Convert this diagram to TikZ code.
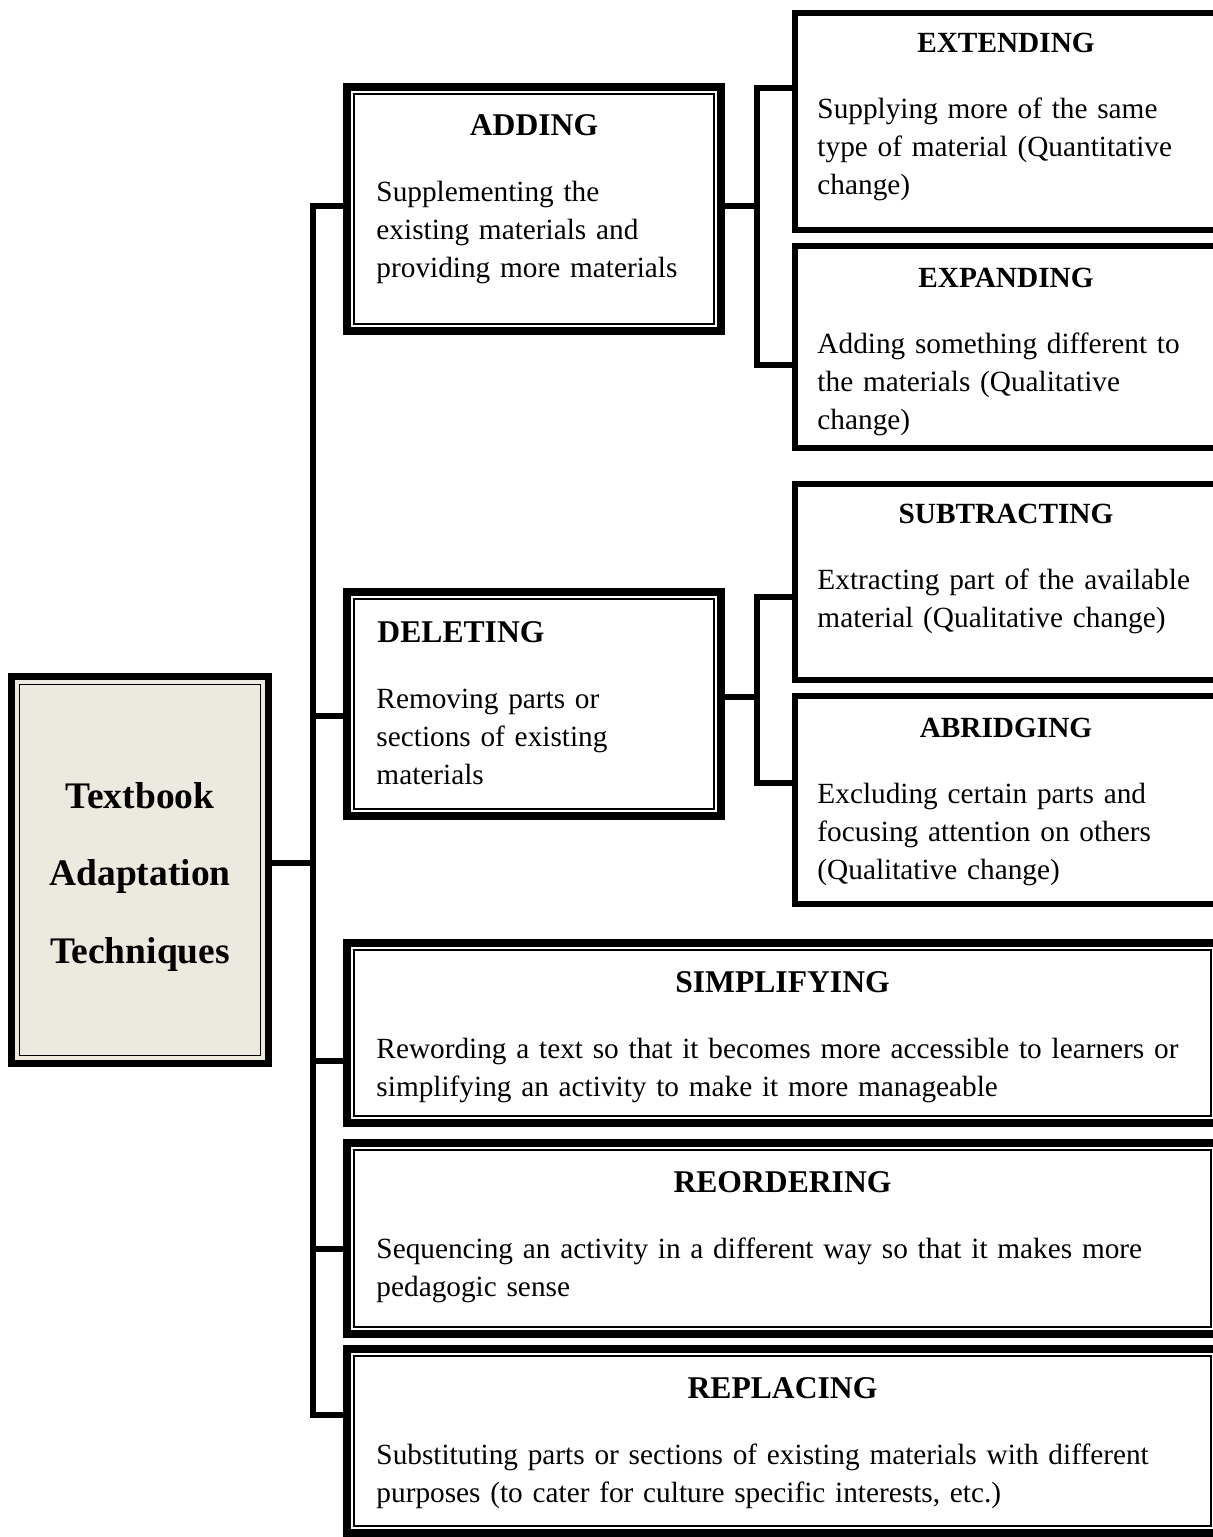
\documentclass[tikz,border=0pt]{standalone}
\usepackage{fontspec}
\setmainfont{Liberation Serif}
\usepackage{tikz}
\usetikzlibrary{calc}
\definecolor{beige}{HTML}{ECEADF}
\newcommand{\px}{0.015cm}

\begin{document}
\begin{tikzpicture}[x=0.015cm, y=-0.015cm,
  box/.style={draw, line width=3.4pt, outer sep=0pt, inner sep=0pt},
  sbox/.style={box, line width=2.6pt},
  inner/.style={line width=0.65pt},
  conn/.style={line width=2.35pt},
  ttl/.style={anchor=base, inner sep=0pt, font=\fontsize{13.5}{16.4}\selectfont\bfseries},
  sttl/.style={ttl, font=\fontsize{12.5}{16.4}\selectfont\bfseries},
  txt/.style={anchor=base west, inner sep=0pt, text width=13cm, align=left,
              font=\fontsize{12.5}{16.4}\selectfont}]
\useasboundingbox (0,0) rectangle (1213,1537);
\clip (0,0) rectangle (1213,1537);
\fill[white] (0,0) rectangle (1213,1537);

% root
\node[box, line width=3pt, fill=beige, minimum width=257*\px, minimum height=387*\px] (tech) at (140,870) {};
\draw[inner] ([shift={(8,8)}]tech.north west) rectangle ([shift={(-8,-8)}]tech.south east);
\node[anchor=base, inner sep=0pt, text width=4cm, align=center,
      font=\fontsize{16}{33.1}\selectfont\bfseries] (techl) at (140,808) {Textbook\\Adaptation\\Techniques};

% double framed boxes
\foreach \n/\x/\y/\w/\h in {adding/534/209/374/244, deleting/534/704/374/224,
    simpl/782.5/1033/871/180, reord/782.5/1238.5/871/191, repl/782.5/1441/871/184} {
  \node[box, minimum width=\w*\px, minimum height=\h*\px] (\n) at (\x,\y) {};
  \draw[inner] ([shift={(7,7)}]\n.north west) rectangle ([shift={(-7,-7)}]\n.south east);
}
% single framed boxes
\foreach \n/\y/\h in {extending/121.5/217, expanding/347/202, subtr/582/196, abridg/800/208}
  \node[sbox, minimum width=422*\px, minimum height=\h*\px] (\n) at (1006,\y) {};

% titles
\foreach \n/\s/\x/\y/\l in {adding/ttl/534/135/ADDING, simpl/ttl/782.5/992/SIMPLIFYING,
    reord/ttl/782.5/1192/REORDERING, repl/ttl/782.5/1398/REPLACING,
    extending/sttl/1006/52/EXTENDING, expanding/sttl/1006/287/EXPANDING,
    subtr/sttl/1006/523/SUBTRACTING, abridg/sttl/1006/737/ABRIDGING}
  \node[\s] (\n-t) at (\x,\y) {\l};
\node[ttl, anchor=base west] (deleting-t) at (377,642) {DELETING};

% texts
\foreach \n/\x/\y/\l in {
    adding/376/201/{Supplementing the\\existing materials and\\providing more materials},
    deleting/376/708/{Removing parts or\\sections of existing\\materials},
    simpl/376/1058/{Rewording a text so that it becomes more accessible to learners or\\simplifying an activity to make it more manageable},
    reord/376/1258/{Sequencing an activity in a different way so that it makes more\\pedagogic sense},
    repl/376/1464/{Substituting parts or sections of existing materials with different\\purposes (to cater for culture specific interests, etc.)},
    extending/817/118/{Supplying more of the same\\type of material (Quantitative\\change)},
    expanding/817/353/{Adding something different to\\the materials (Qualitative\\change)},
    subtr/817/589/{Extracting part of the available\\material (Qualitative change)},
    abridg/817/803/{Excluding certain parts and\\focusing attention on others\\(Qualitative change)}}
  \node[txt] (\n-b) at (\x,\y) {\l};

% trunk
\coordinate (j0) at (313,206);
\coordinate (j1) at (313,716);
\coordinate (j2) at (313,863);
\coordinate (j3) at (313,1061);
\coordinate (j4) at (313,1249);
\coordinate (j5) at (313,1415);
\draw[conn] (j0 -| adding.west) -- (j0) -- (j5) -- (j5 -| repl.west);
\foreach \j/\n in {j1/deleting, j3/simpl, j4/reord}
  \draw[conn] (\j) -- (\j -| \n.west);
\draw[conn] (j2 -| tech.east) -- (j2);

% brackets
\coordinate (a0) at (757,88);
\coordinate (a1) at (757,206);
\coordinate (a2) at (757,365);
\draw[conn] (a0 -| extending.west) -- (a0) -- (a2) -- (a2 -| expanding.west);
\draw[conn] (a1 -| adding.east) -- (a1);
\coordinate (d0) at (757,597);
\coordinate (d1) at (757,697);
\coordinate (d2) at (757,783);
\draw[conn] (d0 -| subtr.west) -- (d0) -- (d2) -- (d2 -| abridg.west);
\draw[conn] (d1 -| deleting.east) -- (d1);
\end{tikzpicture}
\end{document}
